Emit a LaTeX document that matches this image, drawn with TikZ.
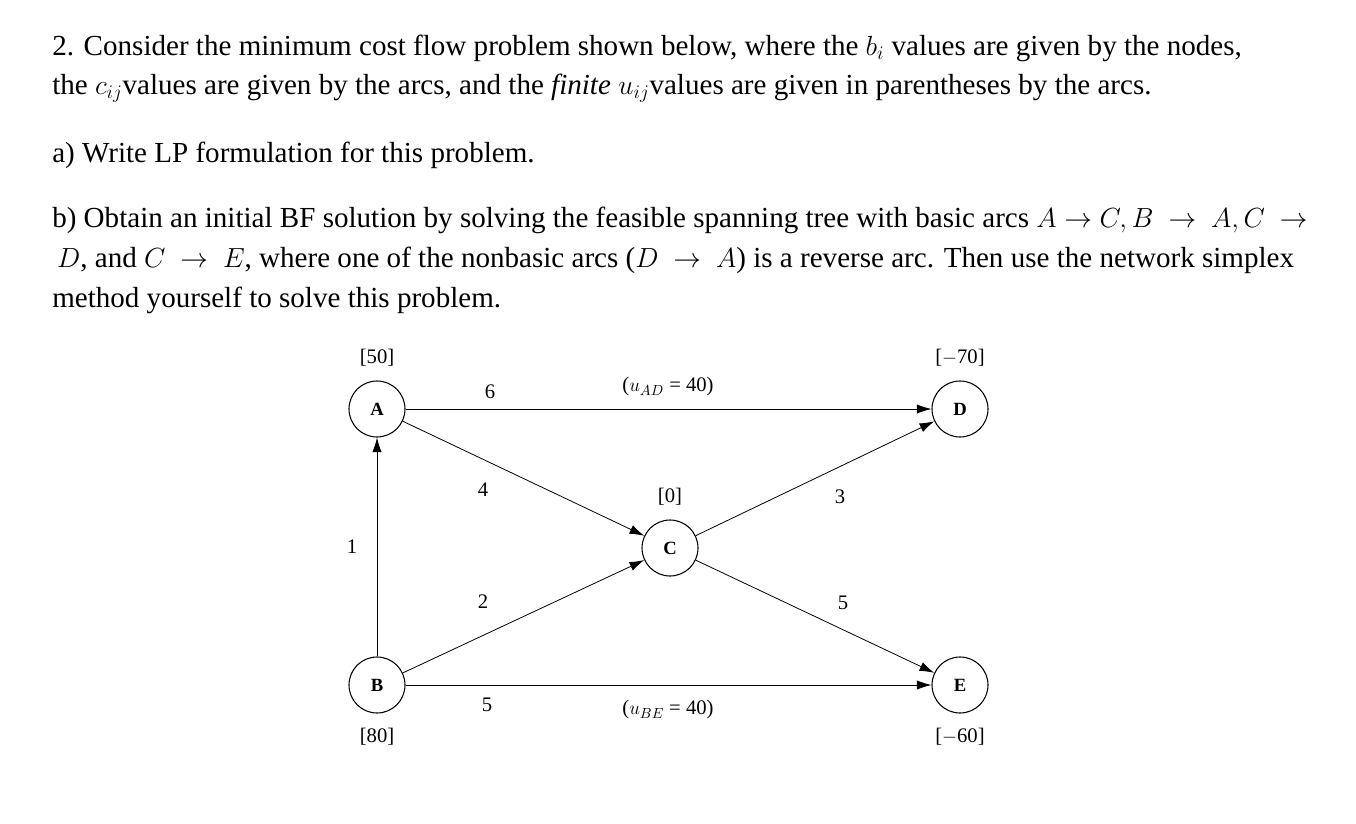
\documentclass[tikz,border=0pt]{standalone}
\usepackage{fontspec}
\setmainfont{Liberation Serif}
\usetikzlibrary{arrows.meta}
\begin{document}
\begin{tikzpicture}[x=0.75pt,y=-0.75pt,
  txt/.style={anchor=west,inner sep=0pt,font=\fontsize{21.8}{26}\selectfont},
  nd/.style={circle,draw,thick,minimum size=42pt,inner sep=0pt,font=\fontsize{14}{16}\selectfont\bfseries},
  lb/.style={inner sep=1pt,font=\fontsize{15.5}{18}\selectfont},
  arc/.style={-{Latex[length=11pt,width=7pt]},semithick}]
\useasboundingbox (0,0) rectangle (1356,824);
\node[txt] (t1) at (52,48) {2. Consider the minimum cost flow problem shown below, where the $b_i$ values are given by the nodes,};
\node[txt] (t2) at (52,88) {the $c_{ij}$values are given by the arcs, and the \textit{finite} $u_{ij}$values are given in parentheses by the arcs.};
\node[txt] (t3) at (52,155) {a) Write LP formulation for this problem.};
\node[txt] (t4) at (52,220) {b) Obtain an initial BF solution by solving the feasible spanning tree with basic arcs $A\to C,B\ \to\ A,C\ \to$};
\node[txt] (t5) at (52,260) {\,$D$, and $C\ \to\ E$, where one of the nonbasic arcs ($D\ \to\ A$) is a reverse arc. Then use the network simplex};
\node[txt] (t6) at (52,300) {method yourself to solve this problem.};

\node[nd] (A) at (377,409) {A};
\node[nd] (D) at (960,409) {D};
\node[nd] (C) at (670,548) {C};
\node[nd] (B) at (377,685) {B};
\node[nd] (E) at (960,685) {E};

\draw[arc] (A) -- (D);
\draw[arc] (A) -- (C);
\draw[arc] (B) -- (A);
\draw[arc] (B) -- (C);
\draw[arc] (C) -- (D);
\draw[arc] (C) -- (E);
\draw[arc] (B) -- (E);

\node[lb] (bA) at (377,358) {[50]};
\node[lb] (bD) at (960,358) {[$-$70]};
\node[lb] (bC) at (670,497) {[0]};
\node[lb] (bB) at (377,737) {[80]};
\node[lb] (bE) at (960,737) {[$-$60]};
\node[lb] (lAD) at (490,392) {6};
\node[lb] (uAD) at (668,387) {($u_{AD}$ = 40)};
\node[lb] (lAC) at (483,490) {4};
\node[lb] (lBC) at (483,602) {2};
\node[lb] (lBA) at (352,547) {1};
\node[lb] (lCD) at (840,497) {3};
\node[lb] (lCE) at (843,603) {5};
\node[lb] (lBE) at (487,705) {5};
\node[lb] (uBE) at (668,710) {($u_{BE}$ = 40)};
\end{tikzpicture}
\end{document}
